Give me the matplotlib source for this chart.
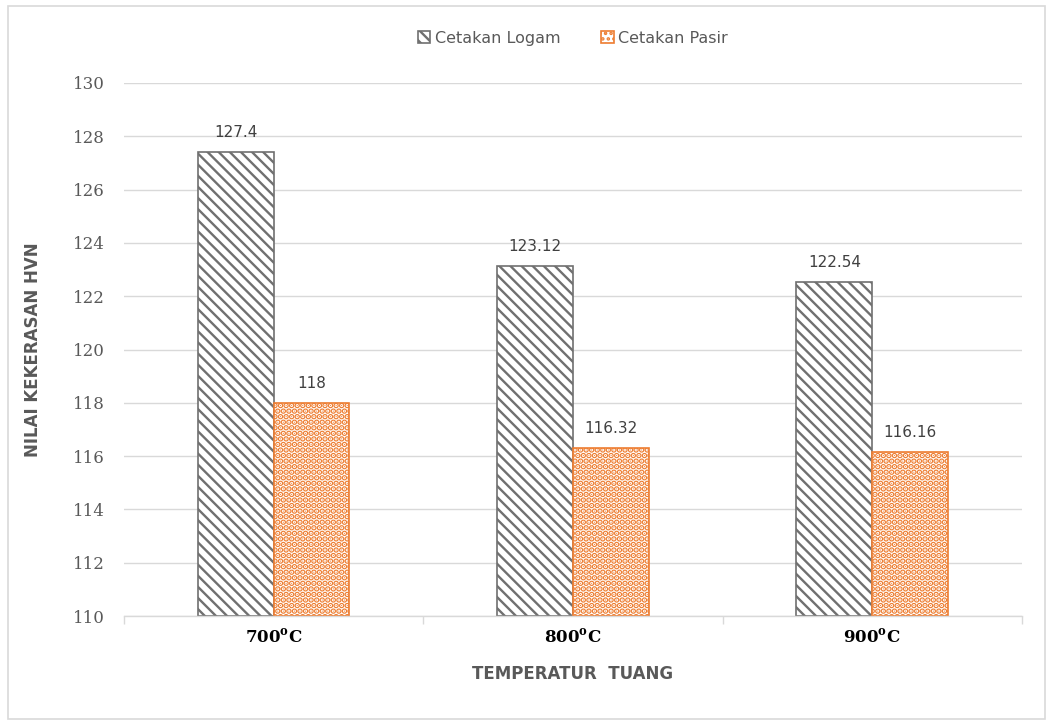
import numpy as np
import matplotlib.pyplot as plt
from matplotlib.patches import Rectangle

suhu = ['700', '800', '900']
logam = [127.4, 123.12, 122.54]
pasir = [118, 116.32, 116.16]
label_logam = ['127.4', '123.12', '122.54']
label_pasir = ['118', '116.32', '116.16']

plt.rcParams['hatch.linewidth'] = 1.7

fig = plt.figure(figsize=(10.47, 7.21), dpi=100)
ax = fig.add_axes([0.1184, 0.1456, 0.8576, 0.7393])

x = np.arange(len(suhu))
w = 0.253
b1 = ax.bar(x - w / 2, np.array(logam) - 110, w, bottom=110, color='white',
            edgecolor='#707070', hatch='\\\\\\', linewidth=1.2, label='Cetakan Logam')
b2 = ax.bar(x + w / 2, np.array(pasir) - 110, w, bottom=110, color='white',
            edgecolor='#ED7D31', hatch='...', linewidth=1.2, label='Cetakan Pasir')
# titik oranye lebih tebal
for p in b2:
    try:
        p.set_hatch_linewidth(3.0)
    except AttributeError:
        pass

for i in range(len(suhu)):
    ax.text(x[i] - w / 2, logam[i] + 0.45, label_logam[i], ha='center', va='bottom',
            fontsize=11, color='#404040')
    ax.text(x[i] + w / 2, pasir[i] + 0.45, label_pasir[i], ha='center', va='bottom',
            fontsize=11, color='#404040')

ax.set_xlim(-0.5, 2.5)
ax.set_ylim(110, 130)
ax.set_yticks(np.arange(110, 131, 2))
ax.yaxis.grid(True, color='#d9d9d9', linewidth=1)
ax.set_axisbelow(True)
for s in ['top', 'right', 'left']:
    ax.spines[s].set_visible(False)
ax.spines['bottom'].set_color('#d9d9d9')
ax.spines['bottom'].set_linewidth(1)

ax.set_xticks(x)
ax.set_xticklabels([s + '$^{\\mathregular{o}}$C' for s in suhu], fontfamily='DejaVu Serif',
                   fontweight='bold', fontsize=12)
ax.tick_params(axis='x', length=0, pad=8)
ax.set_xticks([-0.5, 0.5, 1.5, 2.5], minor=True)
ax.tick_params(axis='x', which='minor', length=6, color='#d9d9d9', width=1)
ax.tick_params(axis='y', length=0, pad=14, labelsize=12, labelcolor='#595959')
for t in ax.get_yticklabels():
    t.set_fontfamily('DejaVu Serif')

ax.set_xlabel('TEMPERATUR  TUANG', fontsize=12, fontweight='bold', color='#595959', labelpad=14)
ax.set_ylabel('NILAI KEKERASAN HVN', fontsize=12, fontweight='bold', color='#595959', labelpad=22)

ax.legend(loc='upper center', bbox_to_anchor=(0.5, 1.125), ncol=2, frameon=False,
          fontsize=11.5, labelcolor='#595959', handlelength=0.8, handleheight=0.8,
          columnspacing=2.5, handletextpad=0.3)

fig.patches.append(Rectangle((0.008, 0.003), 0.99, 0.988, transform=fig.transFigure,
                             fill=False, edgecolor='#d9d9d9', linewidth=1.2))

fig.savefig('out.png', dpi=100)
